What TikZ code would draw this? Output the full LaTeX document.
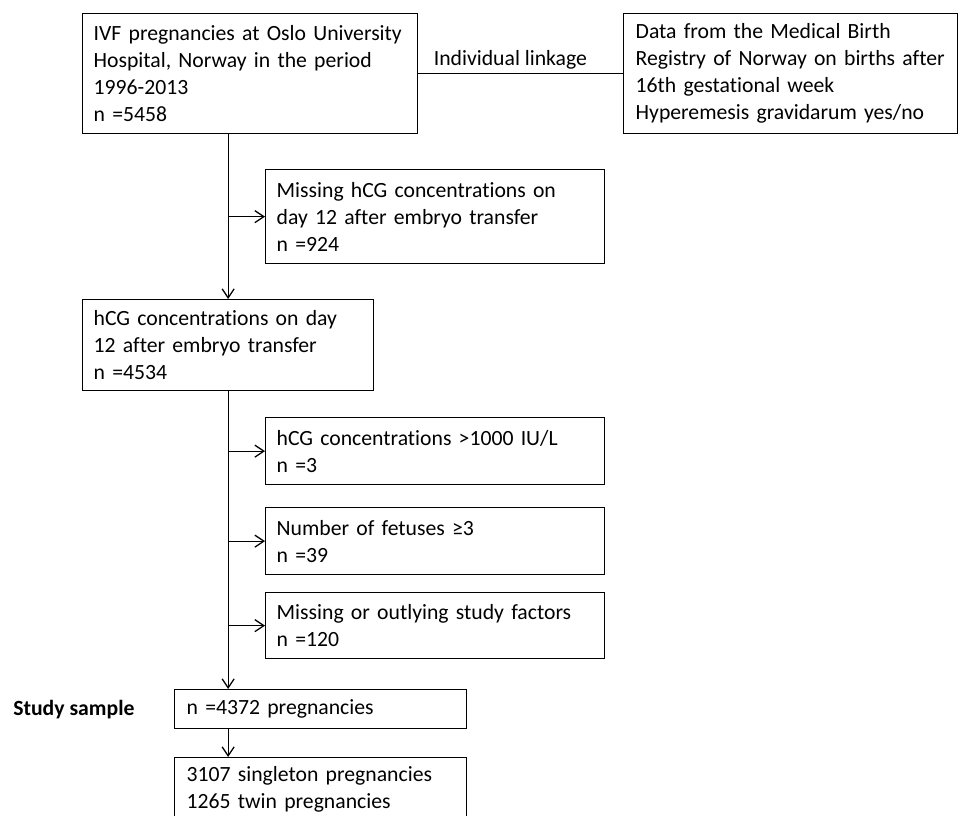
\documentclass[tikz,border=0pt]{standalone}
\usepackage{fontspec}
\setmainfont{Carlito}[Ligatures=NoCommon]
\usepackage{tikz}
\usetikzlibrary{arrows.meta,positioning}

\begin{document}
\begin{tikzpicture}[
  x=1pt, y=-1pt,
  box/.style={
    draw, line width=1.3pt, anchor=north west, align=left,
    inner xsep=11pt, inner ysep=0pt,
    font=\fontsize{21.7}{27}\selectfont
  },
  arr/.style={-{Straight Barb[length=9pt,width=12pt]}, line width=1.3pt},
  link/.style={line width=1.3pt},
]
\useasboundingbox (0,0) rectangle (958,816);
% Sources
\node[box,text width=313pt,minimum width=335pt,minimum height=120pt] (ivf) at (82,13)
  {IVF pregnancies at Oslo University\\Hospital, Norway in the period\\1996-2013\\n =5458};
\node[box,inner xsep=12pt,text width=310pt,minimum width=334pt,minimum height=120pt] (mbrn) at (623,13)
  {Data from the Medical Birth\\Registry of Norway on births after\\16th gestational week\\Hyperemesis gravidarum yes/no};
% Main column
\node[box,text width=269pt,minimum width=291pt,minimum height=91pt] (hcg) at (82,299)
  {hCG concentrations on day\\12 after embryo transfer\\n =4534};
\node[box,inner xsep=12pt,text width=268pt,minimum width=292pt,minimum height=39pt] (study) at (174,689)
  {n =4372 pregnancies};
\node[box,inner xsep=12pt,text width=268pt,minimum width=292pt,minimum height=64pt] (final) at (174,757)
  {3107 singleton pregnancies\\1265 twin pregnancies};
% Exclusions
\node[box,text width=317pt,minimum width=339pt,minimum height=94pt] (miss) at (265,169)
  {Missing hCG concentrations on\\day 12 after embryo transfer\\n =924};
\node[box,text width=317pt,minimum width=339pt,minimum height=67pt] (high) at (265,417)
  {hCG concentrations >1000 IU/L\\n =3};
\node[box,text width=317pt,minimum width=339pt,minimum height=67pt] (fetus) at (265,507)
  {Number of fetuses ≥3\\n =39};
\node[box,text width=317pt,minimum width=339pt,minimum height=66pt] (outl) at (265,592)
  {Missing or outlying study factors\\n =120};
% Label
\node[left=36pt of study,font=\fontsize{21.7}{27}\selectfont\bfseries] (lab) {Study sample};
% Linkage
\draw[link] (ivf.east) -- node[pos=0.45,above,font=\fontsize{21.7}{27}\selectfont] {Individual linkage} (mbrn.west);
% Arrows
\draw[arr] (hcg.north |- ivf.south) -- (hcg.north);
\draw[arr] (hcg.north |- miss.west) -- (miss.west);
\draw[arr] (hcg.south) -- (hcg.south |- study.north);
\draw[arr] (hcg.south |- high.west) -- (high.west);
\draw[arr] (hcg.south |- fetus.west) -- (fetus.west);
\draw[arr] (hcg.south |- outl.west) -- (outl.west);
\draw[arr] (hcg.south |- study.south) -- (hcg.south |- final.north);
\end{tikzpicture}
\end{document}
